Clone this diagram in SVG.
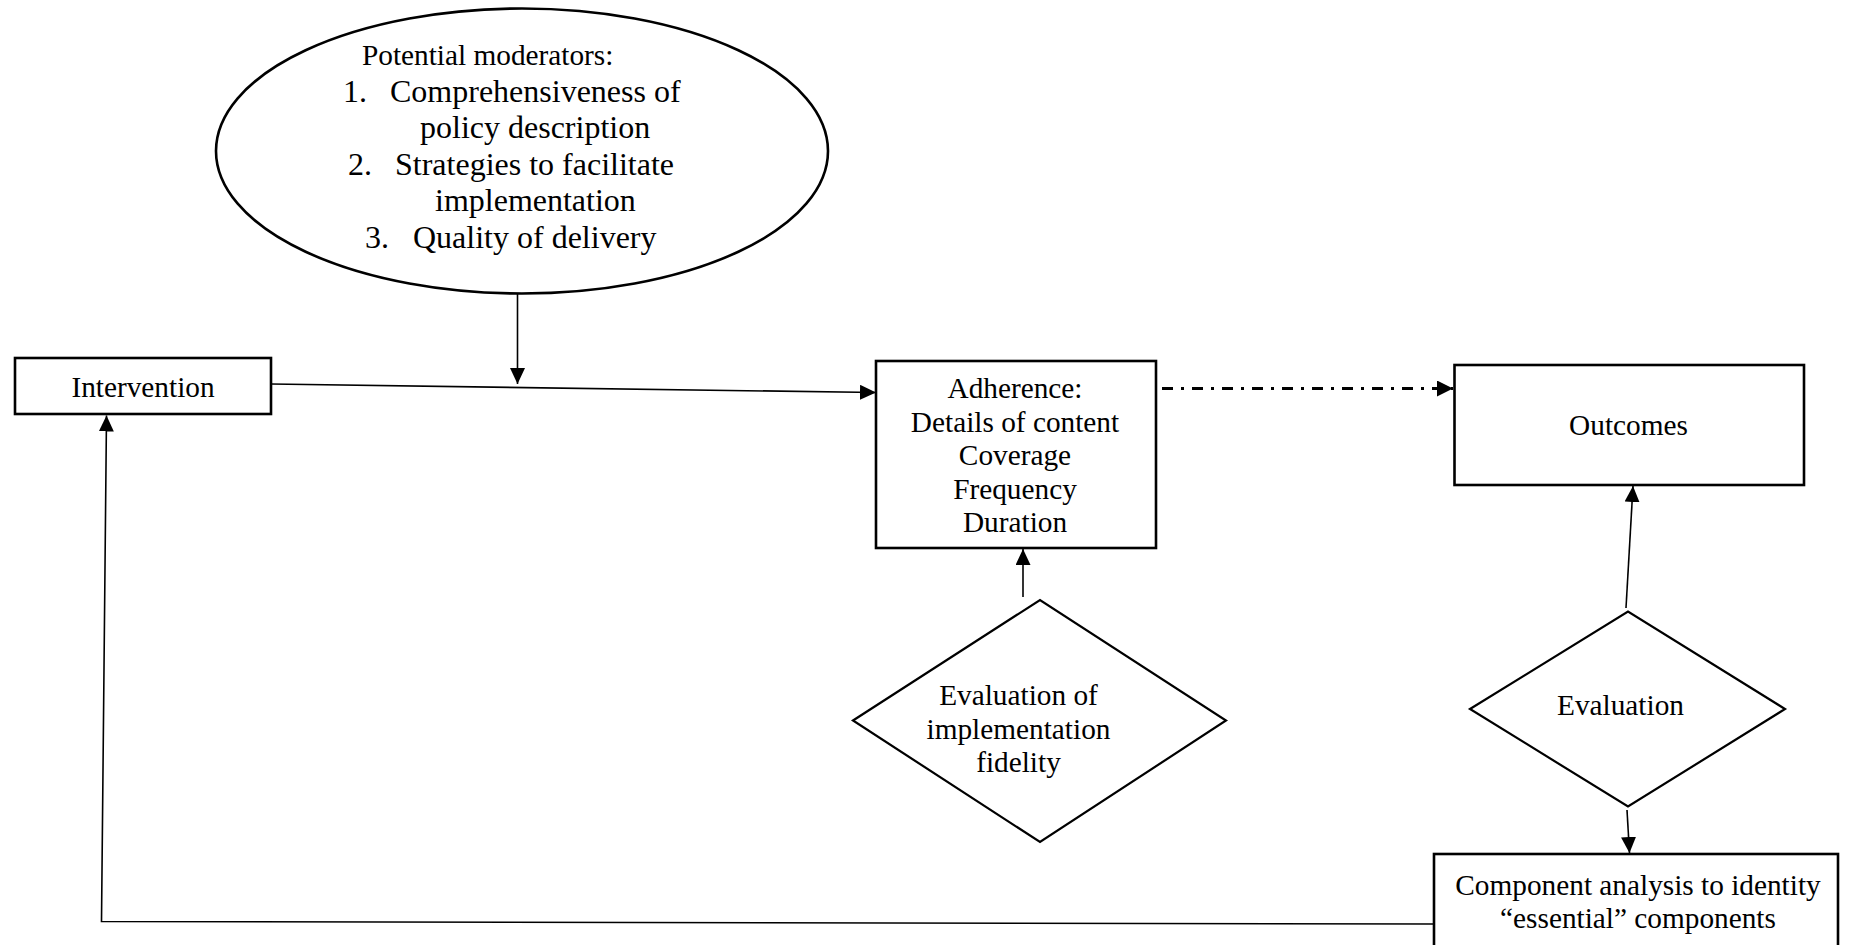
<svg xmlns="http://www.w3.org/2000/svg" width="1849" height="945" viewBox="0 0 1849 945">
  <style>
    .bg { fill: #ffffff; }
    .box { fill: #ffffff; stroke: #000000; stroke-width: 2.6; }
    .shape { fill: #ffffff; stroke: #000000; stroke-width: 2.2; }
    .t { font-family: "Liberation Serif", "Times New Roman", serif; font-size: 29.3px; fill: #000000; }
    .tc { text-anchor: middle; }
    .big { font-size: 32px; }
    .conn { fill: none; stroke: #000000; stroke-width: 1.6; }
    .dashdot { fill: none; stroke: #000000; stroke-width: 3; stroke-dasharray: 11 8 3 8; }
  </style>
  <defs>
    <marker id="arrow" markerUnits="userSpaceOnUse" markerWidth="16" markerHeight="15" refX="16" refY="7.5" orient="auto">
      <path d="M0,0 L16,7.5 L0,15 z" fill="#000000"/>
    </marker>
    <marker id="arrowBig" markerUnits="userSpaceOnUse" markerWidth="16" markerHeight="16" refX="16" refY="8" orient="auto">
      <path d="M0,0 L16,8 L0,16 z" fill="#000000"/>
    </marker>
  </defs>
  <rect class="bg" x="0" y="0" width="1849" height="945"/>

  <g id="moderators">
    <ellipse class="box" cx="522" cy="151" rx="306" ry="142.5"/>
    <text class="t" x="362" y="65">Potential moderators:</text>
    <text class="t big" x="343" y="101.5">1.</text>
    <text class="t big" x="390" y="101.5">Comprehensiveness of</text>
    <text class="t big" x="420" y="138">policy description</text>
    <text class="t big" x="348" y="174.5">2.</text>
    <text class="t big" x="395" y="174.5">Strategies to facilitate</text>
    <text class="t big" x="435" y="211">implementation</text>
    <text class="t big" x="365" y="247.5">3.</text>
    <text class="t big" x="413" y="247.5">Quality of delivery</text>
  </g>

  <g id="intervention">
    <rect class="box" x="15" y="358" width="256" height="56"/>
    <text class="t tc" x="143" y="396.5">Intervention</text>
  </g>

  <g id="adherence">
    <rect class="box" x="876" y="361" width="280" height="187"/>
    <text class="t tc" x="1015" y="398">Adherence:</text>
    <text class="t tc" x="1015" y="431.5">Details of content</text>
    <text class="t tc" x="1015" y="465">Coverage</text>
    <text class="t tc" x="1015" y="498.5">Frequency</text>
    <text class="t tc" x="1015" y="532">Duration</text>
  </g>

  <g id="outcomes">
    <rect class="box" x="1454.5" y="365" width="349.5" height="120"/>
    <text class="t tc" x="1628.5" y="435">Outcomes</text>
  </g>

  <g id="fidelity">
    <polygon class="shape" points="853,720.5 1040,600 1226,720.5 1040,842"/>
    <text class="t tc" x="1018.5" y="705">Evaluation of</text>
    <text class="t tc" x="1018.5" y="738.5">implementation</text>
    <text class="t tc" x="1018.5" y="772">fidelity</text>
  </g>

  <g id="evaluation">
    <polygon class="shape" points="1470,709 1628,611.5 1785,709 1628,806.5"/>
    <text class="t tc" x="1620.5" y="715">Evaluation</text>
  </g>

  <g id="component">
    <rect class="box" x="1434" y="854" width="404" height="110"/>
    <text class="t tc" x="1638" y="895">Component analysis to identity</text>
    <text class="t tc" x="1638" y="928">“essential” components</text>
  </g>

  <g id="connectors">
    <line class="conn" x1="271" y1="384" x2="876" y2="392.5" marker-end="url(#arrow)"/>
    <line class="conn" x1="517.5" y1="294" x2="517.5" y2="384" marker-end="url(#arrow)"/>
    <line class="dashdot" x1="1162" y1="388.5" x2="1453" y2="388.5" marker-end="url(#arrowBig)"/>
    <line class="conn" x1="1023" y1="597" x2="1023" y2="549" marker-end="url(#arrow)"/>
    <line class="conn" x1="1626" y1="608" x2="1633" y2="486" marker-end="url(#arrow)"/>
    <line class="conn" x1="1627" y1="810" x2="1629.5" y2="853" marker-end="url(#arrow)"/>
    <polyline class="conn" points="1434,924 101.5,921.5 106.5,415.5" marker-end="url(#arrow)"/>
  </g>
</svg>
